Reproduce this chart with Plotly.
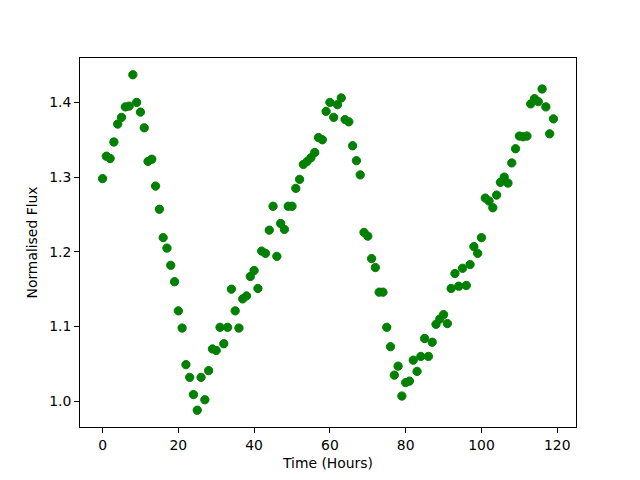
import plotly.graph_objects as go

time_hours = list(range(120))
normalised_flux = [
    1.298, 1.328, 1.325, 1.347, 1.371, 1.380, 1.394, 1.395, 1.437, 1.400,
    1.387, 1.366, 1.321, 1.324, 1.288, 1.257, 1.219, 1.205, 1.182, 1.160,
    1.121, 1.098, 1.049, 1.032, 1.009, 0.988, 1.032, 1.002, 1.041, 1.070,
    1.068, 1.099, 1.077, 1.099, 1.150, 1.121, 1.098, 1.137, 1.141, 1.167,
    1.175, 1.151, 1.201, 1.198, 1.229, 1.261, 1.194, 1.238, 1.230, 1.261,
    1.261, 1.285, 1.297, 1.317, 1.321, 1.326, 1.333, 1.353, 1.350, 1.388,
    1.400, 1.380, 1.397, 1.406, 1.377, 1.374, 1.342, 1.322, 1.303, 1.226,
    1.221, 1.191, 1.179, 1.146, 1.146, 1.099, 1.073, 1.035, 1.047, 1.007,
    1.025, 1.027, 1.055, 1.040, 1.060, 1.084, 1.060, 1.079, 1.103, 1.110,
    1.116, 1.104, 1.151, 1.171, 1.154, 1.178, 1.155, 1.183, 1.207, 1.198,
    1.219, 1.272, 1.268, 1.259, 1.276, 1.293, 1.300, 1.292, 1.319, 1.338,
    1.355, 1.354, 1.355, 1.398, 1.405, 1.401, 1.418, 1.394, 1.358, 1.378,
]
x_ticks = [0, 20, 40, 60, 80, 100, 120]
y_ticks = [1.0, 1.1, 1.2, 1.3, 1.4]

fig = go.Figure(go.Scatter(
    x=time_hours, y=normalised_flux, mode="markers",
    marker=dict(color="#008000", size=8.3, line=dict(color="#008000", width=1)),
))

xmin, xmax = min(time_hours), max(time_hours)
ymin, ymax = min(normalised_flux), max(normalised_flux)
xm = (xmax - xmin) * 0.05
ym = (ymax - ymin) * 0.05

axis_common = dict(
    showline=True, linecolor="black", linewidth=1, mirror=True,
    ticks="outside", ticklen=5, tickwidth=1, tickcolor="black",
    showgrid=False, zeroline=False,
    tickfont=dict(family="DejaVu Sans", size=13.9, color="black"),
)

# page body has an 8px default margin; compensate so the plot box lands where the reference's does
fig.update_layout(
    width=632, height=472,
    margin=dict(l=72, r=64, t=50, b=53),
    paper_bgcolor="white", plot_bgcolor="white",
    showlegend=False,
    font=dict(family="DejaVu Sans", size=13.9, color="black"),
    xaxis=dict(range=[xmin - xm, xmax + xm], tickvals=x_ticks,
               title=dict(text="Time (Hours)", standoff=6,
                          font=dict(family="DejaVu Sans", size=13.9)),
               **axis_common),
    yaxis=dict(range=[ymin - ym, ymax + ym], tickvals=y_ticks, tickformat=".1f",
               title=dict(text="Normalised Flux", standoff=8,
                          font=dict(family="DejaVu Sans", size=13.9)),
               **axis_common),
)

fig.write_html("out.html")
